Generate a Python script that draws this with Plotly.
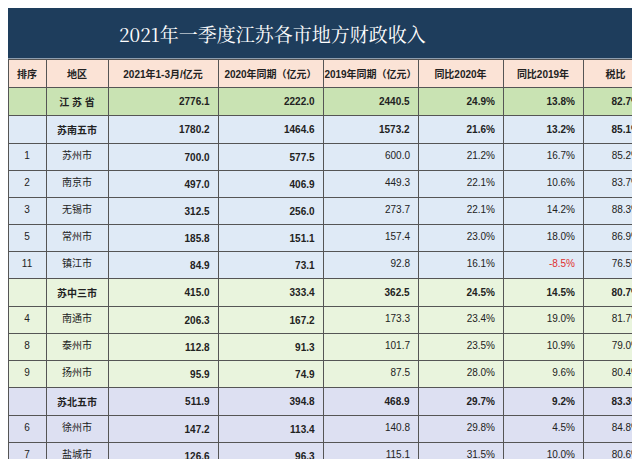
import plotly.graph_objects as go

# 数据
rank = ["", "", "1", "2", "3", "5", "11", "", "4", "8", "9", "", "6", "7", "10", "12", "13"]
region = ["江 苏 省", "苏南五市", "苏州市", "南京市", "无锡市", "常州市", "镇江市",
          "苏中三市", "南通市", "泰州市", "扬州市",
          "苏北五市", "徐州市", "盐城市", "淮安市", "宿迁市", "连云港市"]
v2021 = [2776.1, 1780.2, 700.0, 497.0, 312.5, 185.8, 84.9, 415.0, 206.3, 112.8, 95.9,
         511.9, 147.2, 126.6, 85.1, 76.8, 76.2]
v2020 = [2222.0, 1464.6, 577.5, 406.9, 256.0, 151.1, 73.1, 333.4, 167.2, 91.3, 74.9,
         394.8, 113.4, 96.3, 64.5, 59.1, 61.5]
v2019 = [2440.5, 1573.2, 600.0, 449.3, 273.7, 157.4, 92.8, 362.5, 173.3, 101.7, 87.5,
         468.9, 140.8, 115.1, 79.1, 63.1, 70.8]
yoy2020 = [24.9, 21.6, 21.2, 22.1, 22.1, 23.0, 16.1, 24.5, 23.4, 23.5, 28.0,
           29.7, 29.8, 31.5, 32.0, 29.9, 23.9]
yoy2019 = [13.8, 13.2, 16.7, 10.6, 14.2, 18.0, -8.5, 14.5, 19.0, 10.9, 9.6,
           9.2, 4.5, 10.0, 7.6, 21.7, 7.6]
tax = [82.7, 85.1, 85.2, 83.7, 88.3, 86.9, 76.5, 80.7, 81.7, 79.0, 80.4,
       83.3, 84.8, 80.6, 83.6, 89.4, 78.4]
headers = ["排序", "地区", "2021年1-3月/亿元", "2020年同期（亿元）", "2019年同期（亿元）",
           "同比2020年", "同比2019年", "税比"]

group_rows = {0, 1, 7, 11}
row_fill = []
for i in range(len(region)):
    if i == 0:
        row_fill.append("#c9e3b3")
    elif i <= 6:
        row_fill.append("#dfeaf6")
    elif i <= 10:
        row_fill.append("#e9f4dd")
    else:
        row_fill.append("#dde0f2")


def b(s, i, bold_all_cities=False):
    return f"<b>{s}</b>" if (i in group_rows or bold_all_cities) else s


cols = [
    [b(r, i) for i, r in enumerate(rank)],
    [b(r, i) for i, r in enumerate(region)],
    [b(f"{v:.1f}", i, True) for i, v in enumerate(v2021)],
    [b(f"{v:.1f}", i, True) for i, v in enumerate(v2020)],
    [b(f"{v:.1f}", i) for i, v in enumerate(v2019)],
    [b(f"{v:.1f}%", i) for i, v in enumerate(yoy2020)],
    [b(f"{v:.1f}%", i) for i, v in enumerate(yoy2019)],
    [b(f"{v:.1f}%", i) for i, v in enumerate(tax)],
]
font_colors = [["#222"] * len(region) for _ in cols]
font_colors[6] = ["#e03030" if v < 0 else "#222" for v in yoy2019]

fnt = "Liberation Sans, Noto Sans CJK SC"

fig = go.Figure(go.Table(
    domain=dict(x=[0, 1], y=[0, 0.887]),
    columnwidth=[38, 62, 110, 105, 95, 85, 80, 65],
    header=dict(
        values=[f"<b>{h}</b>" for h in headers],
        fill_color="#fbe3d6",
        line_color="#555",
        align="center",
        font=dict(family=fnt, size=10, color="#222"),
        height=22,
    ),
    cells=dict(
        values=cols,
        fill_color=[row_fill] * len(cols),
        line_color="#555",
        align=["center", "center"] + ["right"] * 6,
        font=dict(family=fnt, size=10, color=font_colors),
        height=22,
    ),
))

fig.add_shape(type="rect", xref="paper", yref="paper", x0=0, x1=1, y0=0.89, y1=1,
              fillcolor="#1e3d5c", line_width=0, layer="below")
fig.add_annotation(text="2021年一季度江苏各市地方财政收入", xref="paper", yref="paper",
                   x=0.17, y=0.945, xanchor="left", yanchor="middle", showarrow=False,
                   font=dict(family="Noto Serif CJK SC, Noto Sans CJK SC", size=19, color="white"))

fig.update_layout(width=640, height=459, margin=dict(l=0, r=0, t=0, b=0),
                  paper_bgcolor="white")
fig.write_html("out.html")
